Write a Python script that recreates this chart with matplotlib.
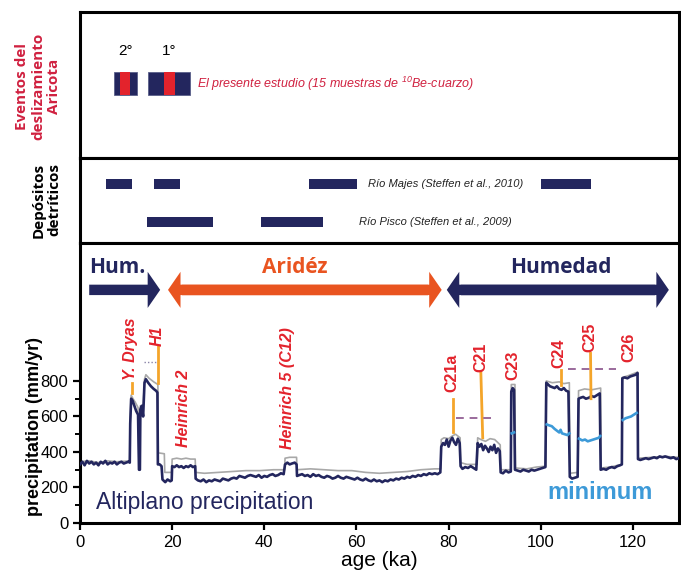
import numpy as np
import matplotlib
matplotlib.use('Agg')
import matplotlib.pyplot as plt
from matplotlib.patches import FancyArrowPatch
from matplotlib.ticker import MultipleLocator, FixedLocator

plt.rcParams['font.family'] = ['Liberation Sans', 'DejaVu Sans']

NAVY = '#23265e'
RED = '#e3232c'
CRIMSON = '#d02140'
ORANGE_ARROW = '#e95420'
ORANGE_LINE = '#f4a52a'
LIGHTBLUE = '#3d9ad8'
GREY = '#a8a8a8'
PURPLE = '#9a6a9c'

# ── eventos del deslizamiento (ka) ─────────────────────────────────────
event_labels = ['2°', '1°']
event_start = [7.3, 14.7]
event_end = [12.4, 23.9]
event_red_start = [8.7, 18.3]
event_red_end = [10.9, 20.7]

# ── depósitos detríticos (ka) ──────────────────────────────────────────
majes_start = [5.7, 16.1, 49.6, 100.1]
majes_end = [11.3, 21.7, 60.2, 110.9]
pisco_start = [14.6, 39.3]
pisco_end = [28.8, 52.7]

# ── precipitación Altiplano (mm/yr) ────────────────────────────────────
navy_age = [0.0, 0.5, 1.0, 1.5, 2.0, 2.5, 3.0, 3.5, 4.0, 4.5, 5.0, 5.5, 6.0, 6.5, 7.0, 7.5,
            8.0, 8.5, 9.0, 9.5, 10.0, 10.5, 10.8,
            10.9, 11.1, 11.4, 11.8, 12.2, 12.6, 12.8, 13.0, 13.1, 13.4, 13.7, 14.0, 14.3,
            14.8, 15.4, 16.0, 16.5, 16.8, 16.9, 17.3, 17.7, 17.9, 18.5, 19.0, 19.6, 19.9,
            20.0, 20.5, 21.0, 21.5, 22.0, 22.5, 23.0, 23.5, 24.0, 24.5, 25.0,
            25.1, 25.6, 26.2, 26.8, 27.4, 28.0, 28.6, 29.2, 29.8, 30.4, 31.0, 31.6, 32.2,
            32.8, 33.4, 34.0, 34.6, 35.2, 35.8, 36.4, 37.0, 37.6, 38.2, 38.8, 39.4, 40.0,
            40.6, 41.2, 41.8, 42.4, 43.0, 43.6, 44.2,
            44.5, 45.0, 45.5, 46.0, 46.6, 47.0,
            47.1, 47.6, 48.2, 48.8, 49.4, 50.0, 50.6, 51.2, 51.8, 52.4, 53.0, 53.6, 54.2,
            54.8, 55.4, 56.0, 56.6, 57.2, 57.8, 58.4, 59.0, 59.6, 60.2, 60.8, 61.4, 62.0,
            62.6, 63.2, 63.8, 64.4, 65.0, 65.6, 66.2, 66.8, 67.4, 68.0, 68.6, 69.2, 69.8,
            70.4, 71.0, 71.6, 72.2, 72.8, 73.4, 74.0, 74.6, 75.2, 75.8, 76.4, 77.0, 77.6, 78.2,
            78.4, 78.8, 79.2, 79.6, 80.0, 80.4, 80.8, 81.2, 81.6, 82.0, 82.4,
            82.6, 83.0, 83.6, 84.2, 84.8, 85.4, 86.0,
            86.3, 86.7, 87.1, 87.5, 87.9, 88.3, 88.7, 89.1, 89.5, 89.9, 90.3, 90.7, 91.1,
            91.3, 91.8, 92.4, 93.0, 93.5,
            93.6, 93.9, 94.2,
            94.4, 95.0, 95.6, 96.2, 96.8, 97.4, 98.0, 98.6, 99.2, 99.8, 100.4, 101.0,
            101.2, 101.6, 102.0, 102.5, 103.0, 103.5, 104.0, 104.5, 105.0, 105.5, 106.0,
            106.3, 106.8, 107.4, 108.0,
            108.2, 108.6, 109.2, 109.8, 110.4, 111.0, 111.6, 112.2, 112.8,
            113.0, 113.6, 114.2, 114.8, 115.4, 116.0, 116.6, 117.2, 117.6,
            117.7, 118.2, 118.8, 119.4, 120.0, 120.6, 121.0,
            121.1, 121.6, 122.2, 122.8, 123.4, 124.0, 124.6, 125.2, 125.8, 126.4, 127.0,
            127.6, 128.2, 128.8, 129.4, 130.0]
navy_val = [330, 345, 325, 350, 335, 345, 330, 340, 325, 345, 335, 350, 330, 340, 335, 345,
            330, 340, 345, 335, 340, 345, 340,
            560, 700, 690, 660, 630, 610, 300, 300, 640, 660, 600, 790, 810,
            790, 770, 755, 745, 735, 330, 330, 320, 245, 230, 245, 235, 240,
            320, 315, 325, 315, 320, 310, 320, 315, 325, 315, 320,
            250, 240, 235, 245, 230, 240, 235, 245, 240, 235, 250, 245, 240,
            250, 255, 250, 265, 260, 255, 265, 270, 265, 260, 270, 255, 265,
            260, 270, 275, 265, 270, 280, 275,
            330, 340, 330, 335, 340, 330,
            265, 270, 275, 265, 270, 260, 275, 265, 270, 260, 255, 265, 260,
            250, 255, 265, 255, 250, 260, 255, 250, 245, 255, 245, 240, 250,
            240, 235, 245, 235, 240, 230, 240, 235, 245, 240, 250, 245, 255,
            250, 260, 255, 265, 260, 270, 265, 275, 270, 280, 275, 280, 275, 285,
            430, 450, 440, 470, 430, 465, 480, 455, 440, 475, 450,
            320, 305, 315, 310, 320, 310, 300,
            450, 430, 445, 410, 435, 420, 400, 430, 410, 440, 395, 420, 405,
            285, 280, 295, 285, 290,
            740, 760, 750,
            300, 295, 290, 300, 295, 290, 300, 295, 300, 305, 310, 315,
            790, 780, 770, 765, 760, 770, 755, 750, 760, 745, 740,
            260, 250, 255, 260,
            700, 705, 710, 700, 705, 715, 710, 720, 730,
            300, 305, 300, 310, 315, 310, 320, 325, 330,
            815, 820, 815, 825, 830, 835, 845,
            360, 355, 360, 365, 360, 365, 370, 365, 375, 370, 375,
            370, 365, 370, 360, 365]

grey_age = [0.0, 2.0, 4.0, 6.0, 8.0, 10.8, 10.9, 11.1, 11.5, 12.0, 12.6, 12.8, 13.0, 13.1,
            13.7, 14.0, 14.3, 15.0, 16.0, 16.9, 17.0, 18.3, 18.4, 19.9, 20.0, 21.0, 22.0,
            23.0, 24.0, 25.0, 25.1, 27.0, 30.0, 33.0, 36.0, 39.0, 42.0, 44.4, 44.5, 45.5,
            47.0, 47.1, 50.0, 53.0, 56.0, 59.0, 62.0, 65.0, 68.0, 71.0, 74.0, 77.0, 78.3,
            78.4, 79.0, 80.0, 80.8, 81.5, 82.5, 82.6, 84.0, 86.2, 86.3, 87.0, 88.0, 89.0,
            90.0, 91.2, 91.3, 93.5, 93.6, 94.4, 94.5, 97.0, 99.0, 101.1, 101.2, 102.5,
            104.0, 105.0, 106.2, 106.3, 108.1, 108.2, 109.5, 111.0, 113.0, 113.1, 115.0,
            117.6, 117.7, 119.0, 121.0, 121.1, 124.0, 127.0, 130.0]
grey_val = [345, 350, 340, 350, 345, 350, 580, 720, 700, 680, 650, 320, 320, 660,
            650, 810, 835, 815, 795, 780, 395, 390, 285, 285, 360, 365, 360,
            365, 360, 360, 285, 280, 285, 290, 295, 295, 300, 300, 365, 370,
            370, 300, 305, 300, 295, 295, 285, 280, 285, 290, 300, 305, 305,
            470, 480, 475, 490, 500, 480, 340, 330, 330, 480, 470, 460, 475,
            470, 440, 300, 300, 780, 780, 310, 305, 315, 320, 800, 790,
            795, 785, 790, 280, 285, 745, 755, 750, 760, 310, 315,
            330, 820, 830, 850, 365, 370, 375, 370]

blue_age = [93.7, 94.2, np.nan,
            101.3, 101.8, 102.4, 103.0, 103.5, 104.0, 104.3, 104.6, 105.2, 105.8, 106.2, np.nan,
            108.3, 109.0, 109.6, 110.2, 110.8, 111.4, 112.0, 112.6, 112.9, np.nan,
            117.8, 118.4, 119.0, 119.6, 120.2, 120.8]
blue_val = [505, 510, np.nan,
            555, 550, 545, 530, 520, 510, 525, 505, 500, 495, 505, np.nan,
            475, 465, 470, 460, 465, 470, 475, 480, 490, np.nan,
            580, 590, 595, 600, 610, 620]

# eventos climáticos: (texto, edad, base del texto)
clim_labels = ['Y. Dryas', 'H1', 'Heinrich 2', 'Heinrich 5 (C12)', 'C21a', 'C21',
               'C23', 'C24', 'C25', 'C26']
clim_age = [10.9, 16.7, 22.4, 45.0, 80.8, 87.0, 94.0, 103.9, 110.7, 119.1]
clim_base = [805, 997, 428, 415, 738, 851, 806, 873, 963, 907]

# líneas naranjas (edad0, val0, edad1, val1)
lead_x0 = [11.2, 16.9, 80.9, 87.4, 104.4, 110.9]
lead_y0 = [730, 790, 510, 480, 777, 700]
lead_x1 = [11.2, 16.9, 80.9, 87.0, 104.4, 110.8]
lead_y1 = [790, 997, 700, 845, 862, 955]


fig = plt.figure(figsize=(6.81, 5.77), dpi=100)
L, W = 80 / 681, 599 / 681
ax_top = fig.add_axes([L, 1 - 158 / 577, W, 146 / 577])
ax_mid = fig.add_axes([L, 1 - 243 / 577, W, 85 / 577])
ax = fig.add_axes([L, 1 - 523 / 577, W, 280 / 577])

for a in (ax_top, ax_mid, ax):
    a.set_xlim(0, 130)
    for s in a.spines.values():
        s.set_linewidth(2.2)
for a in (ax_top, ax_mid):
    a.set_ylim(0, 1)
    a.set_xticks([]); a.set_yticks([])

# panel superior
for lab, s, e, rs, re_ in zip(event_labels, event_start, event_end,
                              event_red_start, event_red_end):
    ax_top.barh(0.51, e - s, left=s, height=0.157, color=NAVY, edgecolor='#5a5f8a', lw=0.6)
    ax_top.barh(0.51, re_ - rs, left=rs, height=0.157, color=RED, lw=0)
    ax_top.text((s + e) / 2, 0.735, lab, ha='center', va='center', fontsize=11)
ax_top.text(25.4, 0.51, r'El presente estudio (15 muestras de $^{\mathregular{10}}$Be-cuarzo)',
            color=CRIMSON, style='italic', fontsize=9, ha='left', va='center')

# panel medio
for s, e in zip(majes_start, majes_end):
    ax_mid.barh(0.694, e - s, left=s, height=0.125, color=NAVY)
for s, e in zip(pisco_start, pisco_end):
    ax_mid.barh(0.247, e - s, left=s, height=0.125, color=NAVY)
ax_mid.text(62.4, 0.694, 'Río Majes (Steffen et al., 2010)', style='italic',
            fontsize=8, ha='left', va='center', color='#222222')
ax_mid.text(60.6, 0.247, 'Río Pisco (Steffen et al., 2009)', style='italic',
            fontsize=8, ha='left', va='center', color='#222222')

# etiquetas izquierdas
fig.text(38 / 681, 1 - 86 / 577, 'Eventos del\ndeslizamiento\nAricota', rotation=90,
         ha='center', va='center', color=CRIMSON, fontsize=11, fontweight='bold',
         family='Open Sans', linespacing=1.15)
fig.text(46.5 / 681, 1 - 200 / 577, 'Depósitos\ndetríticos', rotation=90,
         ha='center', va='center', color='black', fontsize=11, fontweight='bold',
         family='Open Sans', linespacing=1.15)

# panel de precipitación
ax.set_ylim(0, 1577)
ax.plot(grey_age, grey_val, color=GREY, lw=1.2, zorder=2)
ax.plot(navy_age, navy_val, color=NAVY, lw=1.9, zorder=3)
ax.plot(blue_age, blue_val, color=LIGHTBLUE, lw=1.9, zorder=4)

for x0, y0, x1, y1 in zip(lead_x0, lead_y0, lead_x1, lead_y1):
    ax.plot([x0, x1], [y0, y1], color=ORANGE_LINE, lw=2, zorder=5)
ax.plot([81.5, 89.1], [592, 592], color=PURPLE, lw=1.4, ls=(0, (4, 3)), zorder=5)
ax.plot([106.0, 116.3], [868, 868], color=PURPLE, lw=1.4, ls=(0, (4, 3)), zorder=5)
ax.plot([13.8, 16.5], [905, 905], color='#8a84a8', lw=1.0, ls=(0, (1, 1.5)), zorder=5)

for lab, x, b in zip(clim_labels, clim_age, clim_base):
    ax.text(x, b, lab, rotation=90, ha='center', va='bottom', color=RED,
            fontsize=11.5, fontweight='bold', style='italic' if not lab.startswith('C') else 'normal',
            zorder=6)

# flechas: un tramo recto y puntas 'simple' encima
ARROW_Y = 1313
def arrow(a, x0, x1, color, both=False):
    mid = (x0 + x1) / 2
    starts = [mid, mid] if both else [x0]
    ends = [x0, x1] if both else [x1]
    if both:
        a.plot([x0 + 3, x1 - 3], [ARROW_Y, ARROW_Y], color=color, lw=7.5,
               solid_capstyle='butt', zorder=6)
    for s, e in zip(starts, ends):
        a.add_patch(FancyArrowPatch((s, ARROW_Y), (e, ARROW_Y),
                                    arrowstyle='simple,head_length=0.9,head_width=2.6,tail_width=0.75',
                                    mutation_scale=10, color=color, lw=0,
                                    shrinkA=0, shrinkB=0, zorder=6))

arrow(ax, 2.0, 17.4, NAVY)
arrow(ax, 19.1, 78.5, ORANGE_ARROW, both=True)
arrow(ax, 79.6, 127.8, NAVY, both=True)
ax.text(8.0, 1440, 'Hum.', color=NAVY, fontsize=15, fontweight='bold', family='Open Sans',
        ha='center', va='center')
ax.text(46.7, 1440, 'Aridéz', color=ORANGE_ARROW, fontsize=15, fontweight='bold',
        family='Open Sans', ha='center', va='center')
ax.text(104.3, 1440, 'Humedad', color=NAVY, fontsize=15, fontweight='bold',
        family='Open Sans', ha='center', va='center')

ax.text(3.4, 113, 'Altiplano precipitation', color=NAVY, fontsize=16.5, ha='left', va='center')
ax.text(112.8, 169, 'minimum', color=LIGHTBLUE, fontsize=17, fontweight='bold',
        ha='center', va='center')

ax.xaxis.set_major_locator(MultipleLocator(20))
ax.yaxis.set_major_locator(FixedLocator([0, 200, 400, 600, 800]))
ax.yaxis.set_minor_locator(FixedLocator([100, 300, 500, 700]))
ax.tick_params(axis='both', which='major', labelsize=12, length=5, width=1.6, direction='out')
ax.tick_params(axis='y', which='minor', length=3.5, width=1.4, direction='out')
ax.set_xlabel('age (ka)', fontsize=15, labelpad=1)
ax.set_ylabel('precipitation (mm/yr)', fontsize=13, fontweight='bold')
ax.yaxis.set_label_coords(-0.062, 0.346)

fig.savefig('out.png', dpi=100)
